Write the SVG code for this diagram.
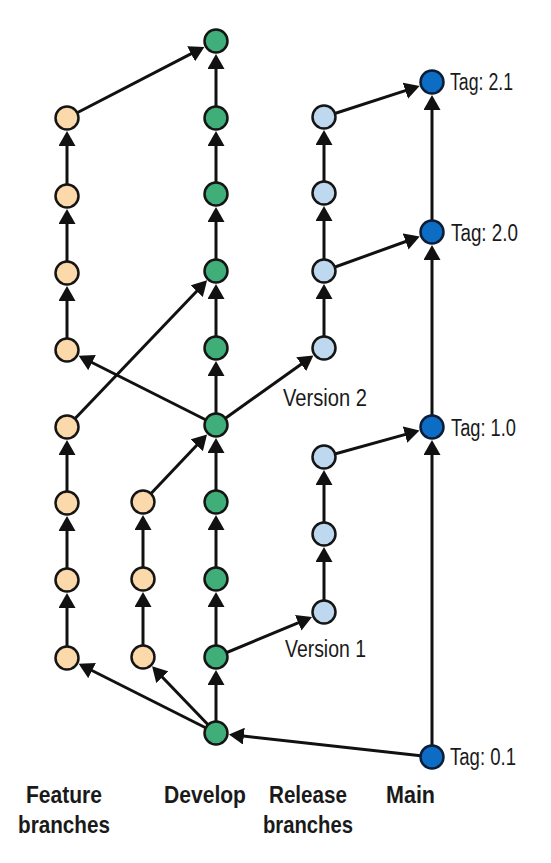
<svg xmlns="http://www.w3.org/2000/svg" width="551" height="863" viewBox="0 0 551 863">
<defs>
<marker id="ah" viewBox="0 0 15 17" refX="9" refY="8.5" markerWidth="15" markerHeight="17" markerUnits="userSpaceOnUse" orient="auto">
<path d="M0,0 L15,8.5 L0,17 z" fill="#111"/>
</marker>
</defs>
<style>
.e{stroke:#111;stroke-width:3;fill:none;marker-end:url(#ah)}
.n{stroke:#151515;stroke-width:2.5}
.f{fill:#fcd9aa}
.d{fill:#3fae78}
.r{fill:#bdd8ef}
.m{fill:#0d6cc4;stroke:#0b1e36}
.t{font-family:"Liberation Sans",Arial,sans-serif;font-size:23px;fill:#1a1a1a}
.h{font-family:"Liberation Sans",Arial,sans-serif;font-size:24px;font-weight:bold;fill:#1a1a1a;text-anchor:middle}
</style>
<rect width="551" height="863" fill="#fff"/>
<g id="connectors">
<path class="e" d="M216,733 L216,676"/>
<path class="e" d="M216,657 L216,598"/>
<path class="e" d="M216,579 L216,521"/>
<path class="e" d="M216,502 L216,444"/>
<path class="e" d="M216,425 L216,367"/>
<path class="e" d="M216,348 L216,290"/>
<path class="e" d="M216,271 L216,213"/>
<path class="e" d="M216,194 L216,137"/>
<path class="e" d="M216,118 L216,60"/>
<path class="e" d="M67,658 L67,599"/>
<path class="e" d="M67,580 L67,522"/>
<path class="e" d="M67,503 L67,446"/>
<path class="e" d="M67,350 L67,292"/>
<path class="e" d="M67,273 L67,215"/>
<path class="e" d="M67,196 L67,137"/>
<path class="e" d="M143,657 L143,598"/>
<path class="e" d="M143,579 L143,521"/>
<path class="e" d="M324,612 L324,553"/>
<path class="e" d="M324,534 L324,476"/>
<path class="e" d="M324,348 L324,290"/>
<path class="e" d="M324,271 L324,212"/>
<path class="e" d="M324,193 L324,136"/>
<path class="e" d="M432,757 L432,446"/>
<path class="e" d="M432,427 L432,251"/>
<path class="e" d="M432,232 L432,101"/>
<path class="e" d="M432,757 L234.9,735.1"/>
<path class="e" d="M216,733 L84,666.5"/>
<path class="e" d="M216,733 L156.2,670.7"/>
<path class="e" d="M216,657 L306.5,619.3"/>
<path class="e" d="M324,457 L413.7,432.1"/>
<path class="e" d="M143,502 L202.9,438.8"/>
<path class="e" d="M67,427 L202.9,284.7"/>
<path class="e" d="M216,425 L84,358.5"/>
<path class="e" d="M216,425 L308.5,359"/>
<path class="e" d="M324,271 L414.1,238.5"/>
<path class="e" d="M324,117 L413.9,87.9"/>
<path class="e" d="M67,118 L199.1,49.7"/>
</g>
<g id="feature-branches">
<circle class="n f" cx="67" cy="118" r="11.5"/>
<circle class="n f" cx="67" cy="196" r="11.5"/>
<circle class="n f" cx="67" cy="273" r="11.5"/>
<circle class="n f" cx="67" cy="350" r="11.5"/>
<circle class="n f" cx="67" cy="427" r="11.5"/>
<circle class="n f" cx="67" cy="503" r="11.5"/>
<circle class="n f" cx="67" cy="580" r="11.5"/>
<circle class="n f" cx="67" cy="658" r="11.5"/>
<circle class="n f" cx="143" cy="502" r="11.5"/>
<circle class="n f" cx="143" cy="579" r="11.5"/>
<circle class="n f" cx="143" cy="657" r="11.5"/>
</g>
<g id="develop">
<circle class="n d" cx="216" cy="41" r="11.5"/>
<circle class="n d" cx="216" cy="118" r="11.5"/>
<circle class="n d" cx="216" cy="194" r="11.5"/>
<circle class="n d" cx="216" cy="271" r="11.5"/>
<circle class="n d" cx="216" cy="348" r="11.5"/>
<circle class="n d" cx="216" cy="425" r="11.5"/>
<circle class="n d" cx="216" cy="502" r="11.5"/>
<circle class="n d" cx="216" cy="579" r="11.5"/>
<circle class="n d" cx="216" cy="657" r="11.5"/>
<circle class="n d" cx="216" cy="733" r="11.5"/>
</g>
<g id="release-branches">
<circle class="n r" cx="324" cy="117" r="11.5"/>
<circle class="n r" cx="324" cy="193" r="11.5"/>
<circle class="n r" cx="324" cy="271" r="11.5"/>
<circle class="n r" cx="324" cy="348" r="11.5"/>
<circle class="n r" cx="324" cy="457" r="11.5"/>
<circle class="n r" cx="324" cy="534" r="11.5"/>
<circle class="n r" cx="324" cy="612" r="11.5"/>
<text class="t" x="283" y="406" textLength="84" lengthAdjust="spacingAndGlyphs">Version 2</text>
<text class="t" x="285" y="657" textLength="81" lengthAdjust="spacingAndGlyphs">Version 1</text>
</g>
<g id="main">
<circle class="n m" cx="432" cy="82" r="11.5"/>
<circle class="n m" cx="432" cy="232" r="11.5"/>
<circle class="n m" cx="432" cy="427" r="11.5"/>
<circle class="n m" cx="432" cy="757" r="11.5"/>
<text class="t" x="450" y="90" textLength="63" lengthAdjust="spacingAndGlyphs">Tag: 2.1</text>
<text class="t" x="451" y="241" textLength="67" lengthAdjust="spacingAndGlyphs">Tag: 2.0</text>
<text class="t" x="451" y="436" textLength="65" lengthAdjust="spacingAndGlyphs">Tag: 1.0</text>
<text class="t" x="450" y="765" textLength="66" lengthAdjust="spacingAndGlyphs">Tag: 0.1</text>
</g>
<g id="labels">
<text class="h" x="64" y="803" textLength="76" lengthAdjust="spacingAndGlyphs">Feature</text>
<text class="h" x="64" y="833" textLength="92" lengthAdjust="spacingAndGlyphs">branches</text>
<text class="h" x="205" y="803" textLength="82" lengthAdjust="spacingAndGlyphs">Develop</text>
<text class="h" x="308" y="803" textLength="78" lengthAdjust="spacingAndGlyphs">Release</text>
<text class="h" x="308" y="833" textLength="90" lengthAdjust="spacingAndGlyphs">branches</text>
<text class="h" x="410.5" y="803" textLength="49" lengthAdjust="spacingAndGlyphs">Main</text>
</g>
</svg>
